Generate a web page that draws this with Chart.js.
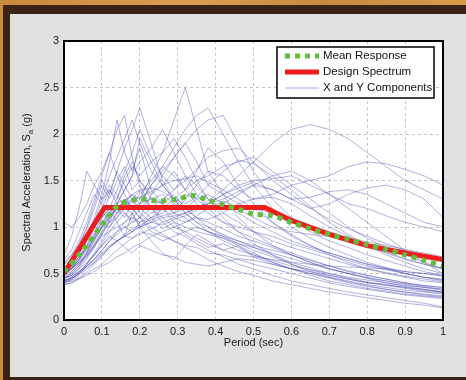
<!DOCTYPE html>
<html lang="en">
<head>
    <meta charset="UTF-8">
    <title>Response Spectra</title>
    <script src="https://cdn.jsdelivr.net/npm/chart.js"></script>
    <style>
        html, body { margin: 0; padding: 0; }
        body {
            width: 466px; height: 380px; position: relative; overflow: hidden;
            background: #3a2214;
        }
        .wood-top { position: absolute; left: 0; top: 0; width: 466px; height: 5px;
            background: linear-gradient(90deg, #c98938, #dc9d4c 40%, #c98a3c 70%, #d99a48); }
        .wood-left { position: absolute; left: 0; top: 0; width: 3px; height: 380px; background: #c98a3c; }
        .panel { position: absolute; left: 10px; top: 14px; width: 456px; height: 363px; background: #e1e1e1; }
        canvas { position: absolute; left: 0; top: 0; }
    </style>
</head>
<body>
    <div class="wood-top"></div>
    <div class="wood-left"></div>
    <div class="panel"></div>
    <canvas id="spectraChart" width="466" height="380"></canvas>

    <script>
        // Chart data
        const periods = [0, 0.02, 0.04, 0.06, 0.08, 0.10, 0.12, 0.14, 0.16, 0.18, 0.20, 0.23, 0.26, 0.29, 0.32,
                         0.35, 0.38, 0.42, 0.46, 0.50, 0.55, 0.60, 0.65, 0.70, 0.75, 0.80, 0.85, 0.90, 0.95, 1.00];

        const components = [
            [0.50,0.55,0.62,0.70,0.82,0.95,1.05,1.10,1.25,1.35,1.30,1.55,1.80,2.15,2.50,2.05,1.60,1.35,1.10,0.95,0.80,0.70,0.62,0.55,0.50,0.45,0.42,0.38,0.35,0.32],
            [0.45,0.50,0.58,0.72,0.90,1.10,1.35,1.60,1.85,2.05,2.28,1.90,1.50,1.30,1.15,1.05,0.95,0.85,0.78,0.70,0.62,0.55,0.50,0.45,0.40,0.36,0.33,0.30,0.28,0.26],
            [0.60,0.70,0.85,1.05,1.30,1.55,1.80,2.05,2.20,1.75,1.45,1.20,1.05,0.95,0.90,0.82,0.75,0.68,0.60,0.55,0.48,0.42,0.38,0.34,0.30,0.27,0.24,0.21,0.18,0.14],
            [0.42,0.45,0.50,0.58,0.65,0.75,0.85,0.95,1.05,1.15,1.25,1.45,1.65,1.85,2.05,2.20,2.28,2.00,1.70,1.45,1.20,1.00,0.88,0.78,0.70,0.62,0.56,0.50,0.46,0.42],
            [0.55,0.60,0.68,0.78,0.92,1.05,1.00,1.15,1.30,1.20,1.10,1.35,1.55,1.75,1.90,2.05,2.15,2.20,1.90,1.60,1.30,1.10,0.95,0.85,0.78,0.70,0.64,0.58,0.52,0.48],
            [0.40,0.42,0.45,0.50,0.55,0.60,0.68,0.75,0.82,0.88,0.92,0.98,1.05,1.10,1.15,1.20,1.28,1.40,1.55,1.70,1.90,2.05,2.10,2.05,1.95,1.80,1.65,1.50,1.40,1.30],
            [0.38,0.40,0.44,0.48,0.52,0.58,0.62,0.68,0.72,0.78,0.82,0.90,0.95,1.00,1.05,1.10,1.08,1.15,1.25,1.30,1.35,1.45,1.50,1.55,1.65,1.70,1.68,1.62,1.55,1.45],
            [0.50,0.55,0.62,0.70,0.80,0.90,0.95,1.00,1.05,1.10,1.05,1.15,1.20,1.30,1.40,1.50,1.55,1.65,1.70,1.75,1.60,1.45,1.30,1.15,1.00,0.88,0.78,0.70,0.62,0.55],
            [0.45,0.48,0.52,0.58,0.65,0.72,0.80,0.85,0.90,0.95,1.00,1.05,1.10,1.12,1.15,1.20,1.25,1.35,1.45,1.50,1.52,1.55,1.45,1.35,1.25,1.20,1.12,1.05,1.00,0.95],
            [0.70,0.90,1.20,1.60,1.45,1.30,1.40,1.25,1.15,1.05,1.10,0.95,0.90,0.85,0.80,0.78,0.72,0.70,0.65,0.60,0.55,0.50,0.45,0.40,0.36,0.33,0.30,0.27,0.25,0.23],
            [0.55,0.62,0.75,0.90,1.10,1.35,1.70,2.15,1.80,1.60,1.85,1.40,1.25,1.15,1.10,1.00,0.95,0.88,0.80,0.72,0.62,0.55,0.48,0.42,0.38,0.34,0.31,0.28,0.26,0.24],
            [0.48,0.52,0.60,0.68,0.80,0.95,1.10,1.25,1.40,1.55,1.70,1.85,2.05,1.80,1.55,1.35,1.20,1.05,0.95,0.88,0.80,0.72,0.65,0.58,0.52,0.48,0.44,0.40,0.37,0.35],
            [0.40,0.44,0.50,0.58,0.66,0.75,0.85,0.92,1.00,0.95,1.05,1.10,0.98,1.05,1.00,0.95,0.92,0.88,0.82,0.78,0.72,0.66,0.60,0.55,0.50,0.46,0.42,0.39,0.36,0.33],
            [0.52,0.58,0.68,0.80,0.95,1.10,1.20,1.05,0.90,1.15,1.00,0.85,0.72,0.65,0.80,0.92,0.85,0.75,0.80,0.68,0.60,0.55,0.52,0.48,0.44,0.40,0.38,0.35,0.33,0.30],
            [0.45,0.48,0.55,0.62,0.70,0.80,0.88,0.95,1.00,1.05,1.10,1.20,1.30,1.40,1.50,1.62,1.75,1.82,1.85,1.70,1.50,1.35,1.20,1.08,0.98,0.90,0.82,0.75,0.70,0.65],
            [0.60,0.65,0.72,0.85,1.00,1.10,1.20,1.15,1.25,1.30,1.20,1.10,1.15,1.25,1.35,1.30,1.20,1.25,1.35,1.45,1.40,1.30,1.20,1.25,1.35,1.42,1.45,1.40,1.30,1.10],
            [0.50,0.56,0.65,0.78,0.90,1.05,1.15,1.25,1.30,1.20,1.25,1.30,1.35,1.25,1.20,1.30,1.35,1.25,1.15,1.05,0.95,0.85,0.78,0.72,0.66,0.60,0.56,0.52,0.50,0.48],
            [0.42,0.45,0.50,0.56,0.62,0.70,0.78,0.85,0.92,0.98,1.02,1.08,1.12,1.15,1.20,1.22,1.25,1.30,1.38,1.45,1.55,1.60,1.50,1.35,1.20,1.05,0.90,0.75,0.62,0.50],
            [0.50,0.55,0.62,0.72,0.85,1.00,1.15,1.30,1.50,1.65,1.55,1.70,1.80,1.95,1.75,1.50,1.30,1.10,0.95,0.82,0.70,0.60,0.52,0.46,0.41,0.37,0.33,0.30,0.27,0.25],
            [1.05,1.00,1.10,1.25,1.45,1.60,1.80,1.55,1.35,1.20,1.10,1.00,0.92,0.85,0.78,0.72,0.65,0.58,0.52,0.48,0.42,0.38,0.34,0.30,0.27,0.24,0.21,0.18,0.16,0.13],
            [0.55,0.62,0.80,1.00,1.25,1.50,1.35,1.60,1.45,1.30,1.40,1.20,1.10,1.00,0.95,0.88,0.82,0.75,0.70,0.68,0.65,0.62,0.60,0.58,0.57,0.56,0.55,0.52,0.50,0.47],
            [0.48,0.55,0.68,0.85,1.05,1.30,1.55,1.75,1.95,2.15,1.90,1.60,1.45,1.30,1.20,1.10,1.00,0.90,0.82,0.75,0.68,0.60,0.54,0.48,0.44,0.40,0.37,0.34,0.31,0.29],
            [0.40,0.43,0.48,0.55,0.62,0.70,0.78,0.85,0.90,0.95,1.00,1.05,1.02,1.08,1.12,1.18,1.25,1.35,1.42,1.48,1.40,1.30,1.32,1.38,1.40,1.35,1.25,1.15,1.05,1.00],
            [0.38,0.40,0.45,0.52,0.60,0.68,0.78,0.85,0.90,0.88,0.95,0.92,0.85,0.90,0.95,1.00,0.95,0.90,0.85,0.80,0.75,0.70,0.64,0.58,0.53,0.48,0.44,0.40,0.37,0.35],
            [0.45,0.50,0.58,0.68,0.80,0.92,1.05,1.15,1.22,1.28,1.32,1.38,1.45,1.50,1.52,1.55,1.48,1.40,1.30,1.20,1.05,0.92,0.80,0.70,0.62,0.55,0.50,0.46,0.42,0.40],
            [0.52,0.58,0.66,0.76,0.88,1.00,1.12,1.20,1.28,1.35,1.40,1.42,1.38,1.30,1.25,1.32,1.45,1.60,1.72,1.68,1.55,1.40,1.22,1.05,0.92,0.80,0.70,0.62,0.55,0.50],
            [0.42,0.46,0.52,0.60,0.70,0.80,0.90,0.85,0.78,0.72,0.80,0.75,0.70,0.68,0.62,0.60,0.58,0.62,0.66,0.64,0.60,0.55,0.50,0.46,0.42,0.38,0.35,0.32,0.30,0.28],
            [0.62,0.70,0.82,0.98,1.20,1.45,1.30,1.50,1.65,1.40,1.50,1.30,1.25,1.35,1.20,1.10,1.05,0.98,0.90,0.85,0.78,0.70,0.62,0.55,0.50,0.45,0.40,0.36,0.33,0.30],
            [0.48,0.55,0.65,0.80,1.00,1.20,1.40,1.30,1.55,1.70,1.50,1.35,1.45,1.30,1.15,1.05,1.00,0.92,0.85,0.78,0.70,0.62,0.56,0.50,0.45,0.41,0.38,0.35,0.32,0.30],
            [0.44,0.48,0.56,0.66,0.78,0.92,1.08,1.20,1.10,1.25,1.35,1.50,1.65,1.55,1.40,1.60,1.85,1.70,1.45,1.25,1.05,0.90,0.80,0.72,0.66,0.60,0.55,0.50,0.46,0.43],
            [0.56,0.62,0.72,0.86,1.02,1.18,1.05,1.25,1.40,1.55,1.95,1.70,1.45,1.60,1.40,1.25,1.15,1.05,1.00,0.95,0.90,0.82,0.76,0.70,0.64,0.58,0.54,0.50,0.46,0.44],
            [0.40,0.44,0.50,0.60,0.72,0.85,1.00,1.10,1.20,1.15,1.00,1.10,1.20,1.10,1.05,1.12,1.20,1.28,1.20,1.10,1.00,0.95,0.92,0.90,0.88,0.84,0.80,0.76,0.72,0.68],
            [0.65,0.75,0.95,1.15,1.35,1.25,1.45,1.35,1.20,1.30,1.15,1.05,1.20,1.05,0.92,0.85,0.78,0.82,0.75,0.70,0.64,0.58,0.54,0.50,0.46,0.43,0.40,0.37,0.35,0.33],
            [0.46,0.52,0.60,0.72,0.86,1.02,1.20,1.40,1.60,1.80,2.05,1.75,1.55,1.40,1.55,1.45,1.30,1.15,1.05,0.95,0.85,0.78,0.72,0.66,0.60,0.55,0.51,0.47,0.44,0.41],
            [0.50,0.56,0.64,0.75,0.88,1.00,1.10,1.20,1.28,1.35,1.25,1.45,1.60,1.75,1.90,1.70,1.45,1.35,1.25,1.20,1.15,1.10,1.02,0.95,0.88,0.80,0.73,0.66,0.60,0.55],
            [0.42,0.46,0.52,0.60,0.70,0.82,0.95,1.05,1.15,1.08,1.20,1.32,1.25,1.15,1.30,1.45,1.60,1.55,1.40,1.30,1.32,1.25,1.12,1.00,0.90,0.80,0.72,0.65,0.60,0.55]
        ];

        const meanPeriods = [0, 0.05, 0.10, 0.13, 0.15, 0.20, 0.25, 0.30, 0.34, 0.38, 0.42, 0.46, 0.50, 0.55,
                             0.60, 0.65, 0.70, 0.75, 0.80, 0.85, 0.90, 0.95, 1.00];
        const meanValues = [0.52, 0.75, 1.02, 1.18, 1.25, 1.30, 1.28, 1.30, 1.34, 1.29, 1.24, 1.19, 1.14, 1.12,
                            1.05, 0.98, 0.92, 0.87, 0.81, 0.76, 0.70, 0.64, 0.58];

        const designPeriods = [0, 0.107, 0.53, 0.60, 0.70, 0.80, 0.90, 1.00];
        const designValues = [0.50, 1.21, 1.21, 1.07, 0.92, 0.80, 0.72, 0.65];

        const xTickLabels = ['0', '0.1', '0.2', '0.3', '0.4', '0.5', '0.6', '0.7', '0.8', '0.9', '1'];
        const yTickLabels = ['0', '0.5', '1', '1.5', '2', '2.5', '3'];

        const legendLabels = ['Mean Response', 'Design Spectrum', 'X and Y Components'];

        const FONT = "'Liberation Sans', Arial, sans-serif";
        const BLUE = 'rgba(70, 70, 180, 0.42)';
        const RED = '#ee1d1d';
        const GREEN = '#62bd3c';

        function toPoints(xs, ys) {
            return xs.map((x, i) => ({ x: x, y: ys[i] }));
        }

        const datasets = [
            {
                label: legendLabels[0],
                data: toPoints(meanPeriods, meanValues),
                borderColor: GREEN, borderWidth: 5, borderDash: [5, 5], borderCapStyle: 'butt',
                pointRadius: 0, tension: 0.3, order: 0
            },
            {
                label: legendLabels[1],
                data: toPoints(designPeriods, designValues),
                borderColor: RED, borderWidth: 5, borderJoinStyle: 'miter',
                pointRadius: 0, tension: 0, order: 1
            }
        ];
        components.forEach((vals, i) => {
            datasets.push({
                label: i === 0 ? legendLabels[2] : '',
                data: toPoints(periods, vals),
                borderColor: BLUE, borderWidth: 1,
                pointRadius: 0, tension: 0, order: 2
            });
        });

        // white plot area, box, titles and legend
        const framePlugin = {
            id: 'frame',
            beforeDraw(chart) {
                const a = chart.chartArea, ctx = chart.ctx;
                ctx.save();
                ctx.fillStyle = '#ffffff';
                ctx.fillRect(a.left, a.top, a.right - a.left, a.bottom - a.top);
                ctx.restore();
            },
            afterDraw(chart) {
                const a = chart.chartArea, ctx = chart.ctx;
                ctx.save();
                ctx.strokeStyle = '#000';
                ctx.lineWidth = 2;
                ctx.strokeRect(a.left, a.top, a.right - a.left, a.bottom - a.top);

                // axis titles
                ctx.fillStyle = '#1a1a1a';
                ctx.font = '11px ' + FONT;
                ctx.textAlign = 'center';
                ctx.textBaseline = 'middle';
                ctx.fillText('Period (sec)', (a.left + a.right) / 2, 343);

                ctx.translate(27, (a.top + a.bottom) / 2 + 2);
                ctx.rotate(-Math.PI / 2);
                const p1 = 'Spectral Acceleration, S', sub = 'a', p2 = ' (g)';
                ctx.font = '11px ' + FONT;
                const w1 = ctx.measureText(p1).width, w3 = ctx.measureText(p2).width;
                ctx.font = '8px ' + FONT;
                const w2 = ctx.measureText(sub).width;
                let x = -(w1 + w2 + w3) / 2;
                ctx.textAlign = 'left';
                ctx.font = '11px ' + FONT;
                ctx.fillText(p1, x, 0);
                x += w1;
                ctx.font = '8px ' + FONT;
                ctx.fillText(sub, x, 4);
                x += w2;
                ctx.font = '11px ' + FONT;
                ctx.fillText(p2, x, 0);
                ctx.restore();

                // legend box
                ctx.save();
                const lx = 277, ly = 47, lw = 157, lh = 51;
                ctx.fillStyle = '#fff';
                ctx.fillRect(lx, ly, lw, lh);
                ctx.strokeStyle = '#000';
                ctx.lineWidth = 1.5;
                ctx.strokeRect(lx, ly, lw, lh);
                const rows = [56, 72, 88];
                const styles = [
                    { c: GREEN, w: 5, d: [5, 5] },
                    { c: RED, w: 5, d: [] },
                    { c: 'rgba(110,110,200,0.6)', w: 1, d: [] }
                ];
                rows.forEach((ry, i) => {
                    ctx.beginPath();
                    ctx.setLineDash(styles[i].d);
                    ctx.strokeStyle = styles[i].c;
                    ctx.lineWidth = styles[i].w;
                    ctx.lineCap = 'butt';
                    ctx.moveTo(285, ry);
                    ctx.lineTo(319, ry);
                    ctx.stroke();
                    ctx.setLineDash([]);
                    ctx.fillStyle = '#111';
                    ctx.font = '11.5px ' + FONT;
                    ctx.textAlign = 'left';
                    ctx.textBaseline = 'middle';
                    ctx.fillText(legendLabels[i], 323, ry);
                });
                ctx.restore();
            }
        };

        const ctx = document.getElementById('spectraChart').getContext('2d');
        new Chart(ctx, {
            type: 'line',
            data: { datasets: datasets },
            options: {
                responsive: false,
                animation: false,
                layout: { padding: { left: 0, top: 41, right: 23, bottom: 0 } },
                plugins: {
                    legend: { display: false },
                    tooltip: { enabled: false }
                },
                scales: {
                    x: {
                        type: 'linear', min: 0, max: 1,
                        afterFit(scale) { scale.height = 60; },
                        grid: { color: '#c4c4c4', lineWidth: 1, drawTicks: false },
                        border: { display: false, dash: [3, 3] },
                        ticks: {
                            stepSize: 0.1, padding: 5, color: '#1a1a1a', maxRotation: 0,
                            font: { family: FONT, size: 11 },
                            callback: (v, i) => xTickLabels[i]
                        }
                    },
                    y: {
                        type: 'linear', min: 0, max: 3,
                        afterFit(scale) { scale.width = 64; },
                        grid: { color: '#c4c4c4', lineWidth: 1, drawTicks: false },
                        border: { display: false, dash: [3, 3] },
                        ticks: {
                            stepSize: 0.5, padding: 5, color: '#1a1a1a',
                            font: { family: FONT, size: 11 },
                            callback: (v, i) => yTickLabels[i]
                        }
                    }
                }
            },
            plugins: [framePlugin]
        });
    </script>
</body>
</html>
